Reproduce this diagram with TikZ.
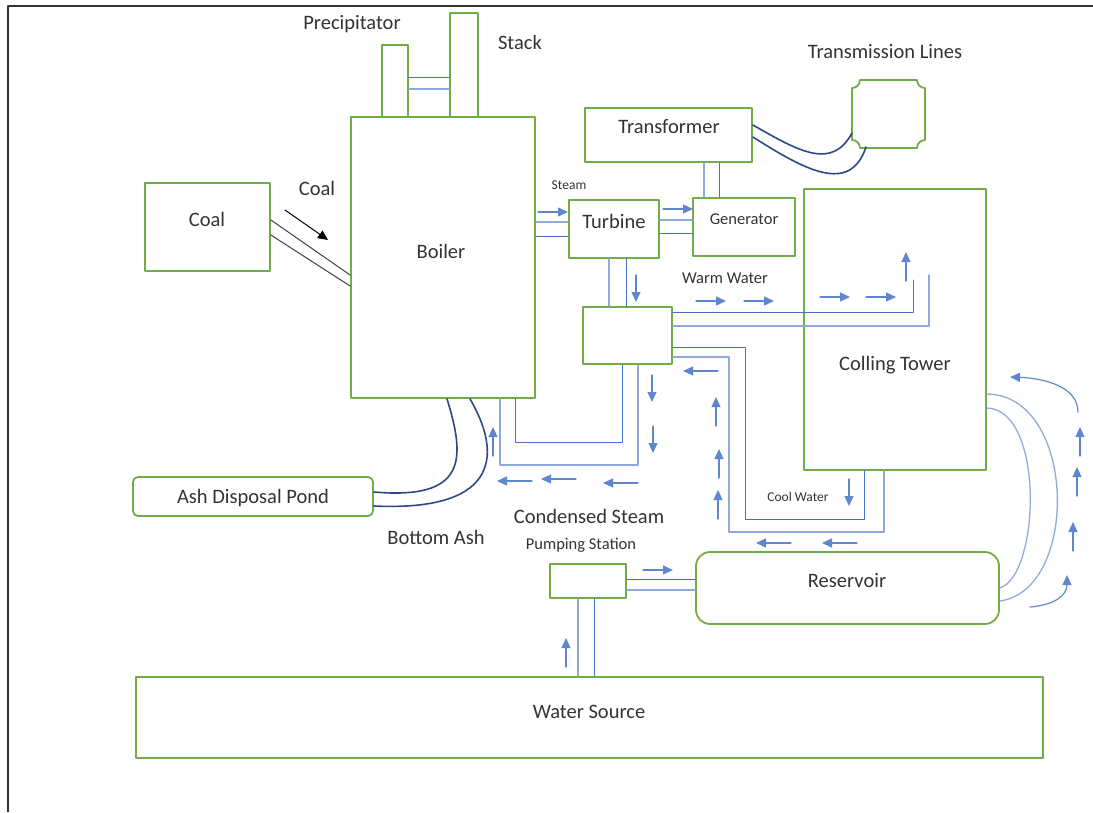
\documentclass[tikz,border=0pt]{standalone}
\usepackage{fontspec}
\setmainfont{Carlito}
\usetikzlibrary{arrows.meta}
\definecolor{boxgreen}{RGB}{112,173,71}
\definecolor{pipeblue}{RGB}{68,114,196}
\definecolor{lightpipe}{RGB}{143,170,220}
\definecolor{ashnavy}{RGB}{47,72,140}
\begin{document}
\begin{tikzpicture}[x=1pt,y=-1pt,line cap=round,line join=round,
    box/.style={draw=boxgreen,line width=1.8pt,inner sep=0pt},
    rbox/.style={box,rounded corners=7pt},
    lbl/.style={font=\fontsize{20.5}{24}\selectfont,text=black!80,inner sep=0pt},
    midlbl/.style={font=\fontsize{16.5}{19}\selectfont,text=black!80,inner sep=0pt},
    smalllbl/.style={font=\fontsize{13.5}{16}\selectfont,text=black!80,inner sep=0pt},
    pipe/.style={draw=pipeblue,line width=1pt},
    lpipe/.style={draw=lightpipe,line width=1.3pt},
    flow/.style={draw=pipeblue!85,line width=1.2pt,-{Triangle[length=10pt,width=9pt]}},
    ashline/.style={draw=ashnavy,line width=1.6pt},
    chute/.style={draw=black!75,line width=1pt}]
    \useasboundingbox (0,0) rectangle (1093,812);
    \draw[black!80,line width=1.5pt,line cap=butt] (8,812) -- (8,6) -- (1093,6);

    % plant boxes
    \node[box,minimum width=184,minimum height=281] (boiler) at (443,257.5) {};
    \node[box,minimum width=26,minimum height=72] (precip) at (395,81) {};
    \node[box,minimum width=28,minimum height=104] (stack) at (464,65) {};
    \node[box,minimum width=125,minimum height=88] (coal) at (207.5,227) {};
    \node[box,minimum width=167,minimum height=54] (transf) at (668.5,135) {};
    \node[box,minimum width=90,minimum height=58] (turb) at (614,229) {};
    \node[box,minimum width=102,minimum height=58] (gen) at (744,227) {};
    \node[box,minimum width=89,minimum height=57] (cond) at (627.5,335.5) {};
    \node[box,minimum width=182,minimum height=281] (tower) at (895,329.5) {};
    \node[rbox,rounded corners=5pt,minimum width=240,minimum height=39] (ashpond) at (253,496.5) {};
    \node[box,minimum width=76,minimum height=34] (pump) at (588,581) {};
    \node[rbox,rounded corners=14pt,minimum width=303,minimum height=72] (reserv) at (847.5,588) {};
    \node[box,minimum width=907,minimum height=81] (water) at (589.5,717.5) {};
    \draw[box] (852,88) .. controls (856.4,88) and (860,84.4) .. (860,80) -- (917,80)
      .. controls (917,84.4) and (920.6,88) .. (925,88) -- (925,140)
      .. controls (920.6,140) and (917,143.6) .. (917,148) -- (860,148)
      .. controls (860,143.6) and (856.4,140) .. (852,140) -- cycle;
    \coordinate (tlines) at (852,133);
    \coordinate (tlines2) at (866,147);

    % labels
    \node[lbl] (precipl) at (352,24) {Precipitator};
    \node[lbl] (stackl) at (520,42) {Stack};
    \node[lbl] (tlinesl) at (885,52) {Transmission Lines};
    \node[lbl] (coall) at (207,219) {Coal};
    \node[lbl] (coalin) at (317,188) {Coal};
    \node[lbl] (boilerl) at (441,251) {Boiler};
    \node[lbl] (transfl) at (669,127) {Transformer};
    \node[smalllbl] (steaml) at (569,185) {Steam};
    \node[lbl] (turbl) at (614,221) {Turbine};
    \node[midlbl] (genl) at (744,219) {Generator};
    \node[midlbl] (warml) at (725,278) {Warm Water};
    \node[lbl] (towerl) at (895,365) {Colling Tower};
    \node[smalllbl] (cooll) at (798,497) {Cool Water};
    \node[lbl] (ashpondl) at (253,498) {Ash Disposal Pond};
    \node[lbl] (bottoml) at (436,537) {Bottom Ash};
    \node[lbl] (condl) at (589,516) {Condensed Steam};
    \node[midlbl] (pumpl) at (581,545) {Pumping Station};
    \node[lbl] (reservl) at (847,581) {Reservoir};
    \node[lbl] (waterl) at (589,712) {Water Source};

    % coal feed
    \draw[chute] (coal.east |- 0,220) -- (boiler.west |- 0,275);
    \draw[chute] (coal.east |- 0,235) -- (boiler.west |- 0,286);
    \draw[black,line width=1pt,-{Triangle[length=10pt,width=9pt]}] (285,210) -- (328,240);

    % flue gas
    \draw[pipe] (precip.east |- 0,77) -- (stack.west |- 0,77);
    \draw[lpipe] (precip.east |- 0,89) -- (stack.west |- 0,89);

    % steam and power
    \draw[lpipe] (boiler.east |- 0,222) -- (turb.west |- 0,222);
    \draw[pipe] (boiler.east |- 0,236) -- (turb.west |- 0,236);
    \draw[lpipe] (turb.east |- 0,220) -- (gen.west |- 0,220);
    \draw[pipe] (turb.east |- 0,233) -- (gen.west |- 0,233);
    \draw[lpipe] (transf.south -| 704,0) -- (gen.north -| 704,0);
    \draw[pipe] (transf.south -| 719,0) -- (gen.north -| 719,0);
    \draw[ashline] (transf.east |- 0,125) .. controls (800,152) and (832,170) .. (tlines);
    \draw[ashline] (transf.east |- 0,137) .. controls (805,170) and (850,195) .. (tlines2);
    \draw[lpipe] (turb.south -| 609,0) -- (cond.north -| 609,0);
    \draw[pipe] (turb.south -| 626,0) -- (cond.north -| 626,0);

    % warm and cool water
    \draw[pipe] (cond.east |- 0,312) -| (913,280);
    \draw[lpipe] (cond.east |- 0,326) -| (929,275);
    \draw[pipe] (cond.east |- 0,347) -| (745,519) -| (tower.south -| 864,0);
    \draw[lpipe] (cond.east |- 0,357) -| (729,532) -| (tower.south -| 884,0);

    % condensed steam
    \draw[pipe] (cond.south -| 622,0) |- (515,442) -- (boiler.south -| 515,0);
    \draw[lpipe] (cond.south -| 638,0) |- (500,465) -- (boiler.south -| 500,0);

    % bottom ash
    \draw[ashline] (boiler.south -| 447,0) .. controls (466,460) and (466,500) .. (ashpond.east |- 0,492);
    \draw[ashline] (boiler.south -| 470,0) .. controls (500,450) and (504,512) .. (ashpond.east |- 0,506);

    % pumping
    \draw[pipe] (pump.east |- 0,579) -- (reserv.west |- 0,579);
    \draw[lpipe] (pump.east |- 0,590) -- (reserv.west |- 0,590);
    \draw[lpipe] (water.north -| 578,0) -- (pump.south -| 578,0);
    \draw[pipe] (water.north -| 594,0) -- (pump.south -| 594,0);
    \draw[lpipe] (reserv.east |- 0,588) .. controls (1040,575) and (1045,410) .. (tower.east |- 0,408);
    \draw[lpipe] (reserv.east |- 0,601) .. controls (1080,590) and (1077,395) .. (tower.east |- 0,394);

    % flow arrows
    \foreach \x/\y in {538/212, 663/209, 696/301, 744/301, 820/297, 866/297, 643/570}{
      \draw[flow] (\x,\y) -- +(30,0);
    }
    \foreach \x/\y in {532/481, 576/479, 638/483, 718/371, 791/543, 857/543}{
      \draw[flow] (\x,\y) -- +(-35,0);
    }
    \foreach \x/\y in {636/275, 652/375, 653/426, 849/479}{
      \draw[flow] (\x,\y) -- +(0,27);
    }
    \foreach \x/\y in {906/281, 493/456, 716/426, 719/478, 718/519, 566/667, 1073/551, 1077/496, 1080/456}{
      \draw[flow] (\x,\y) -- +(0,-29);
    }
    \draw[flow] (1030,607) .. controls (1055,605) and (1067,595) .. (1067,575);
    \draw[flow] (1078,412) .. controls (1078,385) and (1040,378) .. (1010,377);
\end{tikzpicture}
\end{document}
